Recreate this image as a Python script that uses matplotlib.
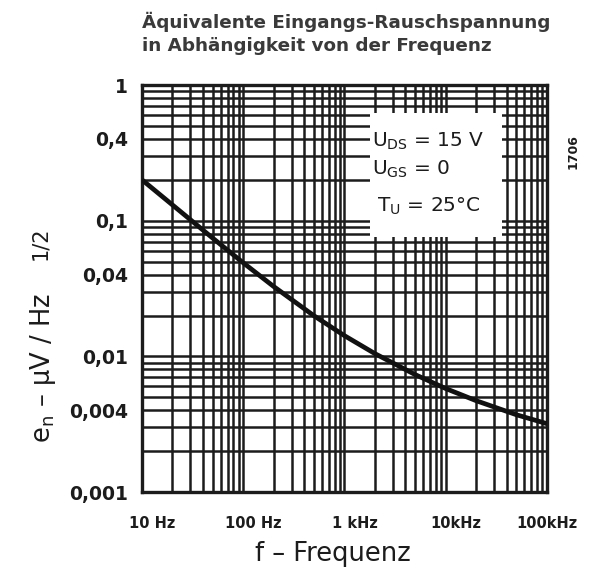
import numpy as np
import matplotlib
matplotlib.use("Agg")
import matplotlib.pyplot as plt
import matplotlib.transforms as mtransforms
from matplotlib.ticker import FixedLocator, LogLocator, NullFormatter

# Frequency (Hz) and equivalent input noise voltage (uV/sqrt(Hz))
freq = [10, 20, 50, 100, 200, 500, 1000, 2000, 5000, 10000, 20000, 50000, 100000]
e_n = [0.20, 0.1306, 0.0743, 0.0489, 0.0327, 0.0199, 0.0142, 0.01047,
       0.00733, 0.00579, 0.00471, 0.00371, 0.00319]

x_ticks = [10, 100, 1000, 10000, 100000]
x_labels = ["10 Hz", "100 Hz", "1 kHz", "10kHz", "100kHz"]
y_ticks = [1, 0.4, 0.1, 0.04, 0.01, 0.004, 0.001]
y_labels = ["1", "0,4", "0,1", "0,04", "0,01", "0,004", "0,001"]

conditions = [r"U$_\mathregular{DS}$ = 15 V",
              r"U$_\mathregular{GS}$ = 0",
              r"T$_\mathregular{U}$ = 25°C"]

ink = "#1c1c1c"

fig = plt.figure(figsize=(5.92, 5.69), dpi=100)
ax = fig.add_axes([0.2399, 0.1353, 0.684, 0.7153])

ax.set_xscale("log")
ax.set_yscale("log")
ax.set_xlim(10, 100000)
ax.set_ylim(0.001, 1)

# dense log paper grid
ax.xaxis.set_major_locator(FixedLocator(x_ticks))
ax.xaxis.set_minor_locator(LogLocator(base=10, subs=np.arange(2, 10)))
ax.yaxis.set_major_locator(FixedLocator(y_ticks))
ax.yaxis.set_minor_locator(LogLocator(base=10, subs=np.arange(1, 10)))
ax.xaxis.set_minor_formatter(NullFormatter())
ax.yaxis.set_minor_formatter(NullFormatter())
ax.set_xticklabels(x_labels)
ax.set_yticklabels(y_labels)
ax.grid(which="both", color=ink, lw=1.8)
ax.set_axisbelow(True)

ax.tick_params(which="both", length=0)
ax.tick_params(axis="x", pad=17, labelsize=10.5, labelcolor=ink)
ax.tick_params(axis="y", pad=10, labelsize=13.5, labelcolor=ink)
for lab in ax.get_xticklabels() + ax.get_yticklabels():
    lab.set_fontweight("bold")
# the printed frequency labels sit a little right of their decade lines
for lab in ax.get_xticklabels()[:-1]:
    lab.set_transform(lab.get_transform() +
                      mtransforms.ScaledTranslation(0.1, 0, fig.dpi_scale_trans))
for sp in ax.spines.values():
    sp.set_linewidth(2.4)
    sp.set_color(ink)

ax.plot(freq, e_n, color="#111111", lw=3.4, solid_capstyle="butt", zorder=5)

# white box with operating conditions
ax.add_patch(plt.Rectangle((0.563, 0.627), 0.326, 0.304, transform=ax.transAxes,
                           facecolor="white", edgecolor="none", zorder=3))
ax.text(0.568, 0.848, conditions[0], transform=ax.transAxes, fontsize=14.5,
        color=ink, va="baseline", zorder=4)
ax.text(0.568, 0.779, conditions[1], transform=ax.transAxes, fontsize=14.5,
        color=ink, va="baseline", zorder=4)
ax.text(0.580, 0.688, conditions[2], transform=ax.transAxes, fontsize=14.5,
        color=ink, va="baseline", zorder=4)

# titles and axis labels
fig.text(0.24, 0.951, "Äquivalente Eingangs-Rauschspannung", fontsize=13.2,
         fontweight="bold", color="#3a3a3a", va="baseline")
fig.text(0.24, 0.910, "in Abhängigkeit von der Frequenz", fontsize=13.2,
         fontweight="bold", color="#3a3a3a", va="baseline")
fig.text(0.563, 0.014, "f – Frequenz", fontsize=18.5, color=ink,
         ha="center", va="baseline")
fig.text(0.072, 0.353, r"e$_\mathregular{n}$ – µV / Hz", fontsize=18.5, color=ink,
         rotation=90, ha="center", va="center")
fig.text(0.068, 0.572, "1/2", fontsize=15, color=ink,
         rotation=90, ha="center", va="center")
fig.text(0.968, 0.733, "1706", fontsize=9, fontweight="bold", color=ink,
         rotation=90, ha="center", va="center")

fig.savefig("out.png", dpi=100)
